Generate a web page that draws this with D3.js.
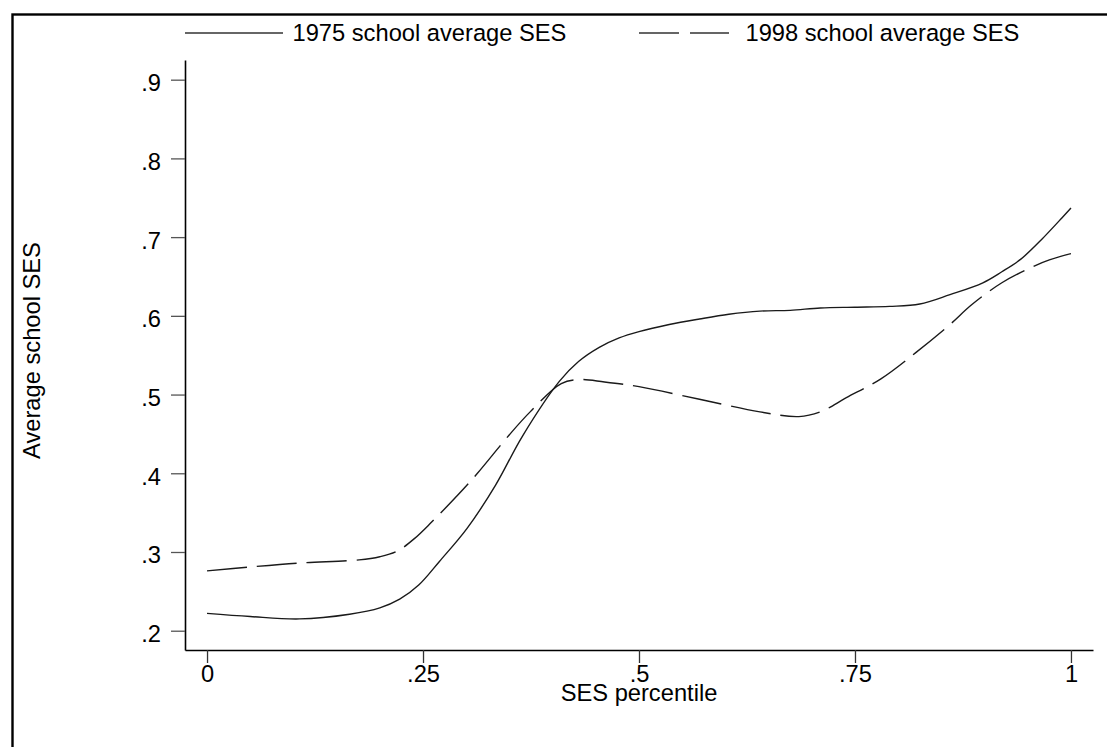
<!DOCTYPE html>
<html>
<head>
<meta charset="utf-8">
<script src="https://cdn.jsdelivr.net/npm/d3@7"></script>
<style>
  html, body { margin: 0; padding: 0; background: #fff; }
  svg { display: block; font-family: "Liberation Sans", Arial, sans-serif; }
</style>
</head>
<body>
<svg id="chart" width="1107" height="747"></svg>
<script>
// SES percentile (x) and average school SES (y) for each cohort
const pct1975 = [0, 0.05, 0.107, 0.165, 0.2, 0.223, 0.245, 0.269, 0.301, 0.334, 0.365, 0.408, 0.43, 0.454, 0.477, 0.5, 0.535, 0.57, 0.604, 0.64, 0.675, 0.71, 0.75, 0.79, 0.825, 0.86, 0.898, 0.92, 0.942, 0.966, 0.99, 1.0];
const ses1975 = [0.222, 0.218, 0.215, 0.221, 0.229, 0.240, 0.258, 0.288, 0.330, 0.385, 0.447, 0.517, 0.542, 0.560, 0.572, 0.580, 0.589, 0.596, 0.602, 0.606, 0.607, 0.610, 0.611, 0.612, 0.615, 0.627, 0.642, 0.656, 0.672, 0.697, 0.725, 0.737];

const pct1998 = [0, 0.05, 0.107, 0.176, 0.2, 0.22, 0.24, 0.26, 0.29, 0.313, 0.35, 0.374, 0.41, 0.43, 0.46, 0.5, 0.57, 0.64, 0.685, 0.71, 0.74, 0.78, 0.82, 0.86, 0.885, 0.92, 0.955, 0.975, 1.0];
const ses1998 = [0.276, 0.281, 0.286, 0.290, 0.294, 0.301, 0.317, 0.338, 0.372, 0.400, 0.449, 0.478, 0.514, 0.519, 0.516, 0.510, 0.494, 0.478, 0.472, 0.478, 0.496, 0.520, 0.553, 0.589, 0.614, 0.642, 0.662, 0.671, 0.679];

const seriesNames = ["1975 school average SES", "1998 school average SES"];
const xTickValues = [0, 0.25, 0.5, 0.75, 1];
const xTickLabels = ["0", ".25", ".5", ".75", "1"];
const yTickValues = [0.2, 0.3, 0.4, 0.5, 0.6, 0.7, 0.8, 0.9];
const yTickLabels = [".2", ".3", ".4", ".5", ".6", ".7", ".8", ".9"];

const svg = d3.select("#chart");
const FONT = 23.7;

// outer frame (runs off the right and bottom edges)
svg.append("rect")
  .attr("x", 12.5).attr("y", 14.5)
  .attr("width", 1200).attr("height", 800)
  .attr("fill", "none").attr("stroke", "#000").attr("stroke-width", 2.4);

const x = d3.scaleLinear().domain([-0.0255, 1.0255]).range([185, 1093]);
const y = d3.scaleLinear().domain([0.1755, 0.925]).range([650, 60]);

// x axis
const xAxis = d3.axisBottom(x)
  .tickValues(xTickValues)
  .tickFormat((d, i) => xTickLabels[i])
  .tickSize(13).tickSizeOuter(0).tickPadding(2);
const gx = svg.append("g").attr("transform", "translate(0,650)").call(xAxis);
gx.select(".domain").attr("stroke", "#000").attr("stroke-width", 1.6);
gx.selectAll(".tick line").attr("stroke", "#333").attr("stroke-width", 1.3);
gx.selectAll(".tick text").attr("font-size", FONT).attr("fill", "#000")
  .attr("font-family", "Liberation Sans, Arial, sans-serif");

// y axis
const yAxis = d3.axisLeft(y)
  .tickValues(yTickValues)
  .tickFormat((d, i) => yTickLabels[i])
  .tickSize(14).tickSizeOuter(0).tickPadding(10);
const gy = svg.append("g").attr("transform", "translate(185,0)").call(yAxis);
gy.select(".domain").attr("stroke", "#000").attr("stroke-width", 1.6);
gy.selectAll(".tick line").attr("stroke", "#555").attr("stroke-width", 1.3);
gy.selectAll(".tick text").attr("font-size", FONT).attr("fill", "#000")
  .attr("dy", "0.46em")
  .attr("font-family", "Liberation Sans, Arial, sans-serif");

// axis titles
svg.append("text")
  .attr("x", 639).attr("y", 701)
  .attr("text-anchor", "middle").attr("font-size", FONT).attr("fill", "#000")
  .text("SES percentile");
svg.append("text")
  .attr("transform", "translate(39.5,350.5) rotate(-90)")
  .attr("text-anchor", "middle").attr("font-size", FONT).attr("fill", "#000")
  .text("Average school SES");

// curves
const line = d3.line()
  .x(d => x(d[0]))
  .y(d => y(d[1]))
  .curve(d3.curveCatmullRom.alpha(0.5));

const data1975 = pct1975.map((p, i) => [p, ses1975[i]]);
const data1998 = pct1998.map((p, i) => [p, ses1998[i]]);

svg.append("path")
  .datum(data1975)
  .attr("d", line)
  .attr("fill", "none").attr("stroke", "#1a1a1a").attr("stroke-width", 1.4);

svg.append("path")
  .datum(data1998)
  .attr("d", line)
  .attr("fill", "none").attr("stroke", "#1a1a1a").attr("stroke-width", 1.4)
  .attr("stroke-dasharray", "40,10");

// legend
const legend = svg.append("g");
legend.append("line")
  .attr("x1", 185).attr("x2", 283).attr("y1", 33).attr("y2", 33)
  .attr("stroke", "#333").attr("stroke-width", 1.3);
legend.append("text")
  .attr("x", 292.5).attr("y", 41).attr("font-size", FONT).attr("fill", "#000")
  .text(seriesNames[0]);
legend.append("line")
  .attr("x1", 639).attr("x2", 729).attr("y1", 33).attr("y2", 33)
  .attr("stroke", "#333").attr("stroke-width", 1.3)
  .attr("stroke-dasharray", "40,11");
legend.append("text")
  .attr("x", 745.5).attr("y", 41).attr("font-size", FONT).attr("fill", "#000")
  .text(seriesNames[1]);
</script>
</body>
</html>
